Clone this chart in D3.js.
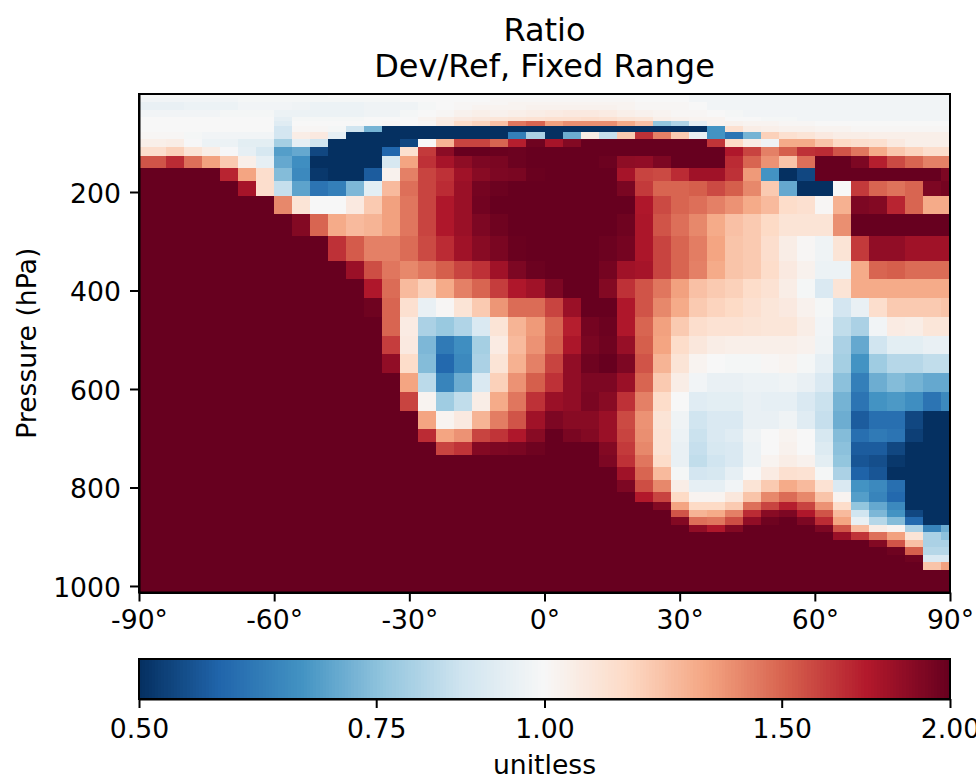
<!DOCTYPE html>
<html>
<head>
<meta charset="utf-8">
<script src="https://cdnjs.cloudflare.com/ajax/libs/d3/7.8.5/d3.min.js"></script>
<style>
  html, body { margin: 0; padding: 0; background: #fff; overflow: hidden; }
  text { font-family: "DejaVu Sans", sans-serif; fill: #000; }
</style>
</head>
<body>
<svg id="chart" width="976" height="779"></svg>
<script>
// latitude edges of the 4x5 grid (half cells at the poles)
var latEdges = [-90,-88,-84,-80,-76,-72,-68,-64,-60,-56,-52,-48,-44,-40,-36,-32,-28,-24,-20,-16,-12,-8,-4,0,4,8,12,16,20,24,28,32,36,40,44,48,52,56,60,64,68,72,76,80,84,88,90];

// pressure edges of the rows, top to bottom (hPa)
var presEdges = [1,4,9.6,16.8,23.9,33.8,47.6,56.4,66.6,78.5,92.4,108.7,127.8,150.4,176.9,208.2,245.2,288.9,339.7,377.4,415.3,453.3,491.4,529.5,567.7,605.9,644.1,682.2,707.7,733.2,758.6,784.1,809.6,829.9,845.2,860.5,875.8,891.1,906.3,921.6,936.9,952.2,967.5,982.8,998.1,1013.25];

// ratio per cell, one line per pressure row, one value per latitude cell
var ratio = [
[.99,.99,.99,.99,.99,.99,.99,.99,.99,.99,.99,1,1,1,1,1,1,1,1,1,1,1,1,1,1,1,1,1,1,1,1,.98,.98,.98,.98,.98,.98,.98,.98,.98,.98,.98,.98,.98,.98,.98],
[.99,.99,.99,.99,.99,.99,.99,.99,.99,.99,.99,1,1,1,1,1,1,1,1,1,1,1,1,1,1,1,1,1,1,1,1,.98,.98,.98,.98,.98,.98,.98,.98,.98,.98,.98,.98,.98,.98,.98],
[.98,.98,.98,.98,.98,.98,.99,.99,.99,.99,.99,.99,.99,.99,.99,1,1,1,1,1,1.01,1.01,1.01,1.01,1.01,1.01,1.01,1.01,1,1,1,.98,.98,.98,.98,.98,.98,.98,.98,.98,.98,.98,.98,.98,.98,.98],
[.95,.95,.95,.96,.96,.96,.98,.98,.98,.97,.96,.96,.96,.97,.97,.97,.99,1,1.01,1.01,1.01,1.02,1.02,1.02,1.02,1.02,1.02,1.02,1.01,1.01,1.01,1,.98,.98,.98,.98,.98,.98,.98,.98,.98,.98,.98,.98,.98,.98],
[.95,.95,.95,.96,.96,.96,.98,.98,.98,.97,.96,.96,.96,.97,.97,.97,.99,1,1.01,1.02,1.02,1.02,1.03,1.03,1.03,1.03,1.03,1.02,1.01,1.01,1.01,1,.98,.98,.98,.98,.98,.98,.98,.98,.98,.98,.98,.98,.98,.98],
[.98,.98,.98,.98,.98,.99,.99,.99,.96,.96,.96,.96,.96,.97,.97,.99,1,1.01,1.03,1.04,1.03,1.04,1.05,1.06,1.07,1.07,1.06,1.04,1.03,1.02,1.01,1.01,1,.99,.98,.98,.98,.98,.98,.98,.98,.98,.98,.98,.98,.98],
[1,1,1,1,1,1,1,1,.94,.99,.99,.99,.99,1,1,1,1.02,1.05,1.07,1.08,1.09,1.1,1.11,1.12,1.12,1.13,1.12,1.1,1.09,1.04,1.03,1.02,1.02,1,1,.99,.99,.98,.98,.98,.98,.98,.98,.98,.98,.98],
[1,1,1,1,1,1,1,1,.92,1,1,1,1,1,1.01,1,1.01,1.06,1.14,1.17,1.23,1.45,1.5,1.33,1.38,1.38,1.38,1.3,1.23,.76,.81,.94,1.02,1.03,1.02,1.02,1.01,1.01,1,1,1,1,1,1,1,1],
[1,1,1,1,1,1,1,1,.88,1.01,1.01,.99,.87,.72,.5,.5,.5,.5,.5,.5,.5,.5,.5,.5,.5,.5,.5,.5,.5,.5,.5,.5,.66,1.12,1.05,1.04,1.03,1.03,1.02,1.02,1.01,1.01,1.01,1.01,1.01,1.01],
[1.01,1.01,1.01,.99,.98,.98,.98,.98,.88,1.05,1.07,.94,.5,.5,.5,.5,.5,.5,.5,.5,.5,.62,.8,.5,.71,1.05,.85,1.2,1.66,1.42,1.2,.95,.66,.6,.72,1.18,1.12,1.1,1.07,1.05,1.05,1.04,1.04,1.04,1.04,1.04],
[1.04,1.04,1.05,.995,.96,.96,.93,.93,.79,.94,.87,.5,.5,.5,.5,.53,1,1.27,1.6,1.6,1.5,1.72,1.97,1.78,1.9,2,2,2,2,2,2,2,1.65,1.15,1.05,.97,1.3,1.3,1.22,1.15,1.13,1.12,1.07,1.04,1.04,1.04],
[1.13,1.13,1.18,1.1,1.05,.995,.94,.89,.68,.7,.53,.5,.5,.5,.575,1.12,1.63,1.87,2,2,1.99,1.98,2,2,2,2,2,2,2,2,2,2,2,1.75,1.6,1.42,1.52,1.66,1.68,1.55,1.45,1.3,1.21,1.17,1.13,1.13],
[1.55,1.55,1.68,1.47,1.33,1.2,1.04,.94,.7,.65,.5,.5,.5,.5,.89,1.32,1.66,1.78,1.86,1.92,1.93,1.98,2,2,2,2,1.98,1.86,1.85,1.92,2,2,2,1.68,1.5,1.37,1.22,1.47,2,2,1.92,1.72,1.58,1.5,1.42,1.42],
[2,2,2,2,2,1.7,1.32,1.13,.74,.64,.51,.5,.5,.56,1.03,1.42,1.6,1.66,1.8,1.88,1.92,1.93,1.99,2,2,2,2,1.78,1.6,1.58,1.68,1.8,1.8,1.66,1.35,.66,.5,.53,2,2,2,2,2,2,2,1.92],
[2,2,2,2,2,2,1.78,1.13,.85,.69,.6,.62,.73,.93,1.25,1.47,1.6,1.68,1.82,1.95,1.98,2,2,2,2,2,2,1.93,1.63,1.5,1.5,1.52,1.58,1.52,1.4,1.2,.7,.5,.5,1,1.63,1.5,1.46,1.5,1.92,1.95],
[2,2,2,2,2,2,2,2,1.4,1.1,1,1,1.07,1.2,1.33,1.45,1.6,1.75,1.82,1.96,2,2,2,2,2,2,2,2,1.75,1.58,1.5,1.47,1.42,1.37,1.3,1.25,1.14,1.12,1.01,1.28,1.92,1.9,1.7,1.5,1.3,1.3],
[2,2,2,2,2,2,2,2,2,1.9,1.5,1.3,1.25,1.27,1.33,1.45,1.6,1.75,1.82,1.92,1.97,2,2,2,2,2,2,1.97,1.76,1.55,1.47,1.4,1.3,1.23,1.2,1.15,1.1,1.1,1.1,1.38,2,2,2,2,2,2],
[2,2,2,2,2,2,2,2,2,2,2,1.66,1.53,1.42,1.42,1.48,1.58,1.68,1.8,1.88,1.93,1.99,2,2,2,2,1.98,1.95,1.76,1.6,1.5,1.43,1.32,1.22,1.2,1.13,1.05,1.01,.97,1.1,1.63,1.85,1.85,1.8,1.8,1.8],
[2,2,2,2,2,2,2,2,2,2,2,2,1.82,1.57,1.45,1.4,1.45,1.52,1.6,1.66,1.8,1.92,1.98,2,2,2,1.95,1.8,1.78,1.6,1.5,1.42,1.3,1.22,1.2,1.14,1.07,1.03,.96,.96,1.3,1.5,1.52,1.48,1.48,1.48],
[2,2,2,2,2,2,2,2,2,2,2,2,2,1.75,1.48,1.25,1.18,1.3,1.42,1.5,1.62,1.75,1.8,1.92,2,2,1.9,1.66,1.55,1.45,1.33,1.23,1.2,1.18,1.14,1.11,1.05,.99,.9,1.1,1.3,1.3,1.3,1.3,1.3,1.3],
[2,2,2,2,2,2,2,2,2,2,2,2,2,1.97,1.5,1.12,.95,1.01,1.1,1.2,1.36,1.48,1.48,1.6,1.82,2,2,1.75,1.55,1.4,1.3,1.2,1.17,1.15,1.12,1.09,1.07,1.03,.99,.88,.95,1.13,1.2,1.2,1.2,1.22],
[2,2,2,2,2,2,2,2,2,2,2,2,2,2,1.5,1.06,.8,.77,.81,.9,1.1,1.27,1.35,1.5,1.72,1.95,1.98,1.75,1.5,1.33,1.2,1.13,1.11,1.11,1.1,1.09,1.09,1.05,.98,.84,.8,.98,1.06,1.05,1.09,1.09],
[2,2,2,2,2,2,2,2,2,2,2,2,2,2,1.62,1.07,.73,.61,.65,.79,1.06,1.25,1.37,1.52,1.76,1.93,1.97,1.83,1.52,1.32,1.14,1.08,1.05,1.04,1.04,1.04,1.04,1.03,.97,.8,.7,.87,.93,.93,.95,.95],
[2,2,2,2,2,2,2,2,2,2,2,2,2,2,1.85,1.14,.74,.58,.64,.8,1.1,1.28,1.42,1.6,1.85,1.97,2,1.92,1.55,1.27,1.1,1.02,1,.99,.99,1.01,1.02,.99,.94,.79,.66,.78,.82,.82,.84,.84],
[2,2,2,2,2,2,2,2,2,2,2,2,2,2,2,1.32,.83,.63,.71,.9,1.18,1.37,1.52,1.66,1.85,1.92,1.92,1.82,1.5,1.2,1.05,.98,.95,.95,.96,.96,.97,.95,.9,.75,.62,.71,.74,.72,.7,.7],
[2,2,2,2,2,2,2,2,2,2,2,2,2,2,2,1.6,1.02,.78,.84,1.05,1.3,1.45,1.66,1.82,1.85,1.93,1.88,1.66,1.42,1.14,1,.92,.93,.93,.95,.94,.94,.9,.86,.72,.6,.66,.67,.65,.6,.64],
[2,2,2,2,2,2,2,2,2,2,2,2,2,2,2,2,1.32,1.02,1.07,1.27,1.43,1.55,1.8,1.92,1.88,1.88,1.82,1.58,1.37,1.1,.97,.87,.9,.9,.95,.95,.97,.92,.85,.71,.56,.59,.59,.53,.5,.5],
[2,2,2,2,2,2,2,2,2,2,2,2,2,2,2,2,1.68,1.32,1.37,1.6,1.65,1.75,1.88,2,1.93,1.9,1.82,1.6,1.38,1.11,.96,.86,.9,.92,.97,1,1.02,1,.89,.74,.59,.61,.6,.52,.5,.5],
[2,2,2,2,2,2,2,2,2,2,2,2,2,2,2,2,2,1.6,1.65,1.9,1.92,1.93,1.97,2,2,2,1.9,1.63,1.4,1.11,.95,.85,.89,.9,.96,1,1.03,1,.91,.75,.56,.56,.53,.5,.5,.5],
[2,2,2,2,2,2,2,2,2,2,2,2,2,2,2,2,2,2,2,2,2,2,2,2,2,2,1.92,1.66,1.45,1.14,.95,.84,.87,.9,.96,1.02,1.05,1.03,.93,.76,.55,.54,.51,.5,.5,.5],
[2,2,2,2,2,2,2,2,2,2,2,2,2,2,2,2,2,2,2,2,2,2,2,2,2,2,2,1.8,1.5,1.25,.99,.88,.89,.94,1,1.06,1.12,1.11,.99,.8,.57,.55,.5,.5,.5,.5],
[2,2,2,2,2,2,2,2,2,2,2,2,2,2,2,2,2,2,2,2,2,2,2,2,2,2,2,1.92,1.57,1.4,1.05,.94,.94,.98,1.1,1.2,1.3,1.25,1.11,.9,.66,.64,.59,.5,.5,.5],
[2,2,2,2,2,2,2,2,2,2,2,2,2,2,2,2,2,2,2,2,2,2,2,2,2,2,2,2,1.74,1.6,1.15,1.02,1.02,1.08,1.22,1.4,1.48,1.4,1.22,1.02,.68,.63,.58,.5,.5,.5],
[2,2,2,2,2,2,2,2,2,2,2,2,2,2,2,2,2,2,2,2,2,2,2,2,2,2,2,2,2,1.9,1.32,1.15,1.15,1.2,1.47,1.6,1.72,1.6,1.37,1.14,.76,.7,.64,.5,.5,.5],
[2,2,2,2,2,2,2,2,2,2,2,2,2,2,2,2,2,2,2,2,2,2,2,2,2,2,2,2,2,2,1.55,1.27,1.3,1.42,1.68,1.88,1.92,1.75,1.55,1.25,.87,.73,.66,.53,.5,.5],
[2,2,2,2,2,2,2,2,2,2,2,2,2,2,2,2,2,2,2,2,2,2,2,2,2,2,2,2,2,2,1.9,1.47,1.45,1.57,1.85,1.97,2,1.92,1.68,1.32,.95,.82,.74,.58,.5,.5],
[2,2,2,2,2,2,2,2,2,2,2,2,2,2,2,2,2,2,2,2,2,2,2,2,2,2,2,2,2,2,2,1.85,1.75,1.9,2,2,2,2,1.92,1.55,1.24,1.05,1.02,.8,.63,.71],
[2,2,2,2,2,2,2,2,2,2,2,2,2,2,2,2,2,2,2,2,2,2,2,2,2,2,2,2,2,2,2,2,2,2,2,2,2,2,2,1.82,1.65,1.47,1.33,1.1,.8,.75],
[2,2,2,2,2,2,2,2,2,2,2,2,2,2,2,2,2,2,2,2,2,2,2,2,2,2,2,2,2,2,2,2,2,2,2,2,2,2,2,2,2,1.9,1.55,1.23,.8,.8],
[2,2,2,2,2,2,2,2,2,2,2,2,2,2,2,2,2,2,2,2,2,2,2,2,2,2,2,2,2,2,2,2,2,2,2,2,2,2,2,2,2,2,1.97,1.52,.82,.82],
[2,2,2,2,2,2,2,2,2,2,2,2,2,2,2,2,2,2,2,2,2,2,2,2,2,2,2,2,2,2,2,2,2,2,2,2,2,2,2,2,2,2,2,1.97,.9,.9],
[2,2,2,2,2,2,2,2,2,2,2,2,2,2,2,2,2,2,2,2,2,2,2,2,2,2,2,2,2,2,2,2,2,2,2,2,2,2,2,2,2,2,2,2,1.22,1.33],
[2,2,2,2,2,2,2,2,2,2,2,2,2,2,2,2,2,2,2,2,2,2,2,2,2,2,2,2,2,2,2,2,2,2,2,2,2,2,2,2,2,2,2,2,2,2],
[2,2,2,2,2,2,2,2,2,2,2,2,2,2,2,2,2,2,2,2,2,2,2,2,2,2,2,2,2,2,2,2,2,2,2,2,2,2,2,2,2,2,2,2,2,2],
[2,2,2,2,2,2,2,2,2,2,2,2,2,2,2,2,2,2,2,2,2,2,2,2,2,2,2,2,2,2,2,2,2,2,2,2,2,2,2,2,2,2,2,2,2,2]
];

var xTicks = [-90,-60,-30,0,30,60,90];
var yTicks = [200,400,600,800,1000];
var barTicks = [0.5,0.75,1,1.5,2];
var rdbu = ["#053061","#2166ac","#4393c3","#92c5de","#d1e5f0","#f7f7f7","#fddbc7","#f4a582","#d6604d","#b2182b","#67001f"];

var left = 139, right = 950, top_ = 94, bottom = 592.5;
var barTop = 659, barBottom = 699;
var fs = 26.67, titleFs = 32, tickLen = 9;

var svg = d3.select("#chart");

var x = d3.scaleLinear().domain([-90, 90]).range([left, right]);
var y = d3.scaleLinear().domain([1, 1013.25]).range([top_, bottom]);
var logPos = d3.scaleLog().domain([0.5, 2]).range([0, 1]).clamp(true);
var ramp = d3.scaleLinear().domain(d3.range(11).map(function(d) { return d / 10; })).range(rdbu);
var color = function(v) { return ramp(logPos(v)); };
var barX = d3.scaleLog().domain([0.5, 2]).range([left, right]);

// cells
var rows = svg.append("g").attr("shape-rendering", "crispEdges").selectAll("g").data(ratio).join("g");
rows.selectAll("rect")
    .data(function(row, j) { return row.map(function(v, i) { return {v: v, i: i, j: j}; }); })
    .join("rect")
    .attr("x", function(d) { return x(latEdges[d.i]); })
    .attr("width", function(d) { return x(latEdges[d.i + 1]) - x(latEdges[d.i]); })
    .attr("y", function(d) { return y(presEdges[d.j]); })
    .attr("height", function(d) { return y(presEdges[d.j + 1]) - y(presEdges[d.j]); })
    .attr("fill", function(d) { return color(d.v); });

// axes
function styleAxis(g) {
  g.selectAll("path").attr("stroke", "#000").attr("stroke-width", 2);
  g.selectAll("line").attr("stroke", "#000").attr("stroke-width", 2);
  g.selectAll("text").attr("font-size", fs).style("font-family", '"DejaVu Sans", sans-serif');
}

svg.append("g")
    .attr("transform", "translate(0," + bottom + ")")
    .call(d3.axisBottom(x).tickValues(xTicks).tickSizeInner(tickLen).tickSizeOuter(0).tickPadding(9).tickFormat(function(d) { return d + "°"; }))
    .call(styleAxis);

svg.append("g")
    .attr("transform", "translate(" + left + ",0)")
    .call(d3.axisLeft(y).tickValues(yTicks).tickSizeInner(tickLen).tickSizeOuter(0).tickPadding(9).tickFormat(d3.format("d")))
    .call(styleAxis)
    .selectAll("text").attr("dy", "0.38em");

svg.append("rect")
    .attr("x", left).attr("y", top_)
    .attr("width", right - left).attr("height", bottom - top_)
    .attr("fill", "none").attr("stroke", "#000").attr("stroke-width", 2);

// titles
svg.append("text").attr("x", (left + right) / 2).attr("y", 41)
    .attr("text-anchor", "middle").attr("font-size", titleFs).text("Ratio");
svg.append("text").attr("x", (left + right) / 2).attr("y", 77)
    .attr("text-anchor", "middle").attr("font-size", titleFs).text("Dev/Ref, Fixed Range");
svg.append("text")
    .attr("transform", "translate(36," + (top_ + bottom) / 2 + ") rotate(-90)")
    .attr("text-anchor", "middle").attr("font-size", fs).text("Pressure (hPa)");

// colour bar
var barSteps = d3.range(256);
svg.append("g").attr("shape-rendering", "crispEdges").selectAll("rect").data(barSteps).join("rect")
    .attr("x", function(d) { return left + d / 256 * (right - left); })
    .attr("width", (right - left) / 256 + 1)
    .attr("y", barTop).attr("height", barBottom - barTop)
    .attr("fill", function(d) { return ramp(d / 255); });

svg.append("g")
    .attr("transform", "translate(0," + barBottom + ")")
    .call(d3.axisBottom(barX).tickValues(barTicks).tickSizeInner(tickLen).tickSizeOuter(0).tickPadding(11).tickFormat(d3.format(".2f")))
    .call(styleAxis);

svg.append("rect")
    .attr("x", left).attr("y", barTop)
    .attr("width", right - left).attr("height", barBottom - barTop)
    .attr("fill", "none").attr("stroke", "#000").attr("stroke-width", 2);

svg.append("text").attr("x", (left + right) / 2).attr("y", 774)
    .attr("text-anchor", "middle").attr("font-size", fs).text("unitless");
</script>
</body>
</html>
